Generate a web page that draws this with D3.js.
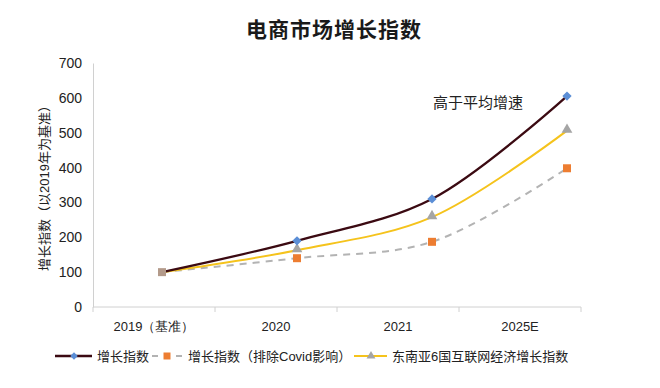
<!DOCTYPE html>
<html>
<head>
<meta charset="utf-8">
<script src="https://cdn.jsdelivr.net/npm/d3@7"></script>
<style>
  body { margin: 0; background: #fff; }
  svg { display: block; font-family: "Liberation Sans", "Noto Sans CJK SC", sans-serif; }
</style>
</head>
<body>
<svg id="chart"></svg>
<script>
// Chart data
const categories = ["2019（基准）", "2020", "2021", "2025E"];
const mainIndex = [100, 190, 310, 605];
const covidIndex = [100, 140, 187, 398];
const seaIndex = [100, 163, 258, 506];
const yTicks = [0, 100, 200, 300, 400, 500, 600, 700];

const width = 660;
const height = 388;
const svg = d3.select("#chart").attr("width", width).attr("height", height);

const plotLeft = 93, plotRight = 581, plotTop = 63, plotBottom = 307;

// category bands for the axis, point scale for the markers (offset as in original)
const xBand = d3.scaleBand().domain(categories).range([plotLeft, plotRight]);
const xPt = d3.scalePoint().domain(categories).range([162, 567]);
const y = d3.scaleLinear().domain([0, 700]).range([plotBottom, plotTop]);

// Title
svg.append("text")
  .attr("x", 334).attr("y", 37)
  .attr("text-anchor", "middle")
  .attr("font-family", "'Noto Sans CJK SC', sans-serif")
  .attr("font-weight", "bold")
  .attr("font-size", 21)
  .attr("letter-spacing", 1)
  .attr("fill", "#1a1a1a")
  .text("电商市场增长指数");

// Y axis
const yAxis = svg.append("g")
  .attr("transform", `translate(${plotLeft},0)`)
  .call(d3.axisLeft(y).tickValues(yTicks).tickSize(0).tickPadding(11));
yAxis.select(".domain").attr("stroke", "#d0d0d0");
yAxis.selectAll("text").attr("font-size", 14).attr("fill", "#222");

// X axis
const xAxis = svg.append("g")
  .attr("transform", `translate(0,${plotBottom})`)
  .call(d3.axisBottom(xBand).tickSize(0).tickPadding(15));
xAxis.select(".domain").attr("stroke", "#d0d0d0").attr("d", `M${plotLeft},0H${plotRight}`);
xAxis.selectAll("text").attr("font-size", 13).attr("fill", "#222");
// tick marks at band edges
svg.append("g")
  .selectAll("line")
  .data(categories.concat(["end"]))
  .join("line")
  .attr("x1", (d, i) => i < categories.length ? xBand(d) : plotRight)
  .attr("x2", (d, i) => i < categories.length ? xBand(d) : plotRight)
  .attr("y1", plotBottom)
  .attr("y2", plotBottom + 5)
  .attr("stroke", "#d0d0d0");

// Y axis title
svg.append("text")
  .attr("transform", "translate(49,185) rotate(-90)")
  .attr("text-anchor", "middle")
  .attr("font-size", 13)
  .attr("fill", "#222")
  .text("增长指数（以2019年为基准）");

// Lines
const line = d3.line()
  .x((d, i) => xPt(categories[i]))
  .y((d) => y(d))
  .curve(d3.curveCatmullRom);

svg.append("path").datum(covidIndex)
  .attr("d", line).attr("fill", "none")
  .attr("stroke", "#b3b3b3").attr("stroke-width", 2).attr("stroke-dasharray", "7,6");
svg.append("path").datum(seaIndex)
  .attr("d", line).attr("fill", "none")
  .attr("stroke", "#f5c31c").attr("stroke-width", 2);
svg.append("path").datum(mainIndex)
  .attr("d", line).attr("fill", "none")
  .attr("stroke", "#3b0a12").attr("stroke-width", 2.3);

// Markers
const sq = d3.symbol().type(d3.symbolSquare).size(64);
const tri = d3.symbol().type(d3.symbolTriangle).size(50);
const dia = d3.symbol().type(d3.symbolDiamond2).size(55);

svg.append("g").selectAll("path").data(covidIndex).join("path")
  .attr("d", sq)
  .attr("transform", (d, i) => `translate(${xPt(categories[i])},${y(d)})`)
  .attr("fill", (d, i) => i === 0 ? "#b39a8a" : "#ed7d31");
svg.append("g").selectAll("path").data(seaIndex).join("path")
  .attr("d", tri)
  .attr("transform", (d, i) => `translate(${xPt(categories[i])},${y(d) - 1})`)
  .attr("fill", "#a5a5a5")
  .attr("opacity", (d, i) => i === 0 ? 0 : 1);
svg.append("g").selectAll("path").data(mainIndex).join("path")
  .attr("d", dia)
  .attr("transform", (d, i) => `translate(${xPt(categories[i])},${y(d)})`)
  .attr("fill", "#5b8ed6")
  .attr("opacity", (d, i) => i === 0 ? 0 : 1);

// Annotation
svg.append("text")
  .attr("x", 433).attr("y", 108)
  .attr("font-family", "'Noto Sans CJK SC', sans-serif")
  .attr("font-size", 15)
  .attr("fill", "#222")
  .text("高于平均增速");

// Legend
const legendY = 356;
const legend = [
  { label: "增长指数", x: 55, len: 37, mx: 19, tx: 42, color: "#3b0a12", dash: null, w: 2.3,
    marker: d3.symbol().type(d3.symbolDiamond2).size(36), mfill: "#5b8ed6" },
  { label: "增长指数（排除Covid影响）", x: 152, len: 32, mx: 15, tx: 36, color: "#b3b3b3", dash: "6,18", w: 2,
    marker: d3.symbol().type(d3.symbolSquare).size(49), mfill: "#ed7d31" },
  { label: "东南亚6国互联网经济增长指数", x: 354, len: 33, mx: 17, tx: 38, color: "#f5c31c", dash: null, w: 2,
    marker: d3.symbol().type(d3.symbolTriangle).size(34), mfill: "#a5a5a5" }
];
const lg = svg.append("g").selectAll("g").data(legend).join("g")
  .attr("transform", (d) => `translate(${d.x},${legendY})`);
lg.append("line")
  .attr("x1", 0).attr("x2", (d) => d.len)
  .attr("stroke", (d) => d.color)
  .attr("stroke-width", (d) => d.w)
  .attr("stroke-dasharray", (d) => d.dash);
lg.append("path")
  .attr("d", (d) => d.marker())
  .attr("transform", (d) => `translate(${d.mx},0)`)
  .attr("fill", (d) => d.mfill);
lg.append("text")
  .attr("x", (d) => d.tx)
  .attr("y", 5)
  .attr("font-size", 13)
  .attr("fill", "#222")
  .text((d) => d.label);
</script>
</body>
</html>
